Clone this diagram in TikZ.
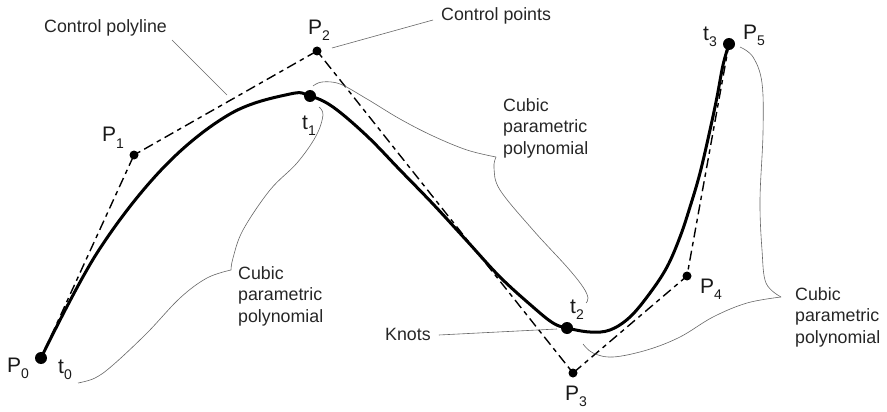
\documentclass[tikz,border=0pt]{standalone}
\usepackage{fontspec}
\setmainfont{Liberation Sans}
\newcommand\lsub[1]{\raisebox{-6pt}{\fontsize{14}{14}\selectfont #1}}
\begin{document}
\begin{tikzpicture}[x=1pt,y=-1pt,
  knot/.style={circle,fill=black,inner sep=0pt,minimum size=12pt},
  cpt/.style={circle,fill=black,inner sep=0pt,minimum size=9pt},
  curvestyle/.style={line width=3pt,line cap=round,line join=round},
  polystyle/.style={line width=1.4pt,dash pattern=on 10pt off 4.5pt on 4.5pt off 4.5pt},
  bracestyle/.style={line width=0.6pt,draw=black!60},
  leader/.style={line width=0.6pt,draw=black!60},
  txt/.style={inner sep=0pt,text=black!85,font=\fontsize{17.8}{21.5}\selectfont},
  plab/.style={inner sep=0pt,anchor=base west,text=black!90,font=\fontsize{21}{21}\selectfont},
  multi/.style={txt,align=left,anchor=west}]
\useasboundingbox (0,0) rectangle (887,412);
% control points and knots
\coordinate (P0) at (41,358);
\coordinate (P1) at (134,155);
\coordinate (P2) at (317,51);
\coordinate (P3) at (573,373);
\coordinate (P4) at (687,276);
\coordinate (P5) at (729,44);
\coordinate (T1) at (310,96);
\coordinate (T2) at (567,328);
% control polyline
\draw[polystyle] (P0) -- (P1) -- (P2) -- (P3) -- (P4) -- (P5);
% curve
\draw[curvestyle] plot[smooth,tension=0.6] coordinates {
 (41,358) (97,253) (163,168) (230,114) (290,94) (310,96)
 (333,107) (367,136) (400,170) (433,204) (467,241) (500,277) (533,307) (553,323) (567,328)
 (590,332) (610,330) (630,317) (650,293) (667,267) (680,237) (690,207) (700,173) (710,130) (717,97) (723,65) (729,44)};
% dots
\node[knot] (k0) at (P0) {};
\node[knot] (k1) at (T1) {};
\node[knot] (k2) at (T2) {};
\node[knot] (k3) at (P5) {};
\node[cpt] (c1) at (P1) {};
\node[cpt] (c2) at (P2) {};
\node[cpt] (c3) at (P3) {};
\node[cpt] (c4) at (P4) {};
% point labels
\node[plab] (lP0) at (7,372) {P\lsub{0}};
\node[plab] (lt0) at (58,373) {t\lsub{0}};
\node[plab] (lP1) at (102,142) {P\lsub{1}};
\node[plab] (lP2) at (308,35) {P\lsub{2}};
\node[plab] (lt1) at (302,129) {t\lsub{1}};
\node[plab] (lt2) at (570,313) {t\lsub{2}};
\node[plab] (lP3) at (565,400) {P\lsub{3}};
\node[plab] (lP4) at (700,293) {P\lsub{4}};
\node[plab] (lt3) at (703,41) {t\lsub{3}};
\node[plab] (lP5) at (743,40) {P\lsub{5}};
% braces
\draw[bracestyle] plot[smooth,tension=0.6] coordinates {(78,383) (95,378) (113,365) (147,333) (180,298) (207,278) (231,270)};
\draw[bracestyle] plot[smooth,tension=0.6] coordinates {(231,270) (233,258) (243,230) (270,190) (297,163) (316,136) (323,115) (319,107)};
\draw[bracestyle] plot[smooth,tension=0.6] coordinates {(313,86) (322,82) (340,84) (367,99) (400,119) (433,136) (467,150) (496,157)};
\draw[bracestyle] plot[smooth,tension=0.6] coordinates {(496,157) (494,168) (500,190) (533,230) (567,267) (583,287) (588,298) (586,303)};
\draw[bracestyle] plot[smooth,tension=0.6] coordinates {(583,344) (593,353) (613,357) (647,350) (680,337) (713,317) (747,303) (781,297)};
\draw[bracestyle] plot[smooth,tension=0.6] coordinates {(781,297) (766,283) (762,250) (760,200) (763,133) (762,83) (753,57) (740,47)};
% brace labels
\node[multi] (cpp1) at (238,296) {Cubic\\parametric\\polynomial};
\node[multi] (cpp2) at (503,128) {Cubic\\parametric\\polynomial};
\node[multi] (cpp3) at (795,317) {Cubic\\parametric\\polynomial};
% callouts
\node[txt,anchor=west] (cpoly) at (44,28) {Control polyline};
\node[txt,anchor=west] (cpts) at (441,16) {Control points};
\node[txt,anchor=west] (knots) at (385,334) {Knots};
\coordinate (polyend) at (227,95);
\coordinate (ptsend) at (332,48);
\coordinate (knotend) at (557,329);
\draw[leader] (172,40) -- (polyend);
\draw[leader] (cpts.west) ++(-8,4) -- (ptsend);
\draw[leader] (knots.east) ++(8,1) -- (knotend);
\end{tikzpicture}
\end{document}
